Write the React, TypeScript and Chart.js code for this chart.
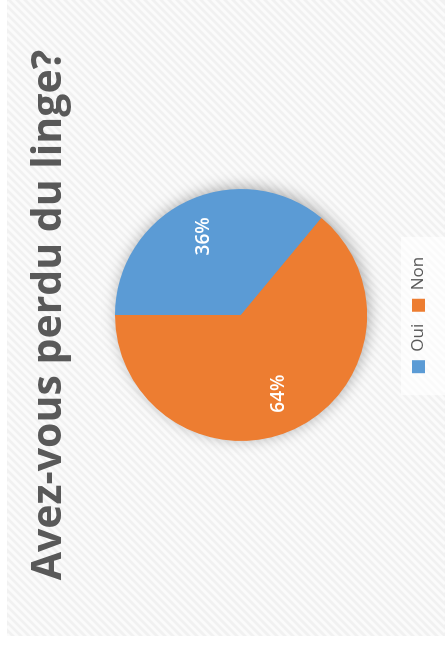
import React, { useEffect, useRef } from "react";
import { Chart, registerables } from "chart.js";

Chart.register(...registerables);

const categories: string[] = ["Oui", "Non"];
const values: number[] = [36, 64];
const sliceColors: string[] = ["#5B9BD5", "#ED7D31"];
const titleText = "Avez-vous perdu du linge?";

const W = 636;
const H = 438;
const FONT = "'Open Sans', 'DejaVu Sans', sans-serif";

export default function App() {
  const ref = useRef<HTMLCanvasElement>(null);

  useEffect(() => {
    if (!ref.current) return;

    const bgPlugin = {
      id: "bgHatch",
      beforeDraw(chart: any) {
        const ctx = chart.ctx;
        const w = chart.width;
        const h = chart.height;
        ctx.save();
        ctx.fillStyle = "#f1f1f1";
        ctx.fillRect(0, 0, w, h);
        ctx.strokeStyle = "#fbfbfb";
        ctx.lineWidth = 3;
        ctx.beginPath();
        for (let c = -h; c < w + h; c += 8) {
          ctx.moveTo(c, 0);
          ctx.lineTo(c - h, h);
        }
        ctx.stroke();
        const lg = chart.legend;
        if (lg && lg.legendHitBoxes && lg.legendHitBoxes.length) {
          const hb = lg.legendHitBoxes;
          const x0 = Math.min(...hb.map((b: any) => b.left)) - 22;
          const x1 = Math.max(...hb.map((b: any) => b.left + b.width)) + 20;
          ctx.fillStyle = "rgba(255,255,255,0.65)";
          ctx.fillRect(x0, lg.top + 3, x1 - x0, H - lg.top);
        }
        ctx.restore();
      },
      beforeDatasetsDraw(chart: any) {
        const meta = chart.getDatasetMeta(0);
        const arc = meta.data[0];
        if (!arc) return;
        const ctx = chart.ctx;
        ctx.save();
        ctx.shadowColor = "rgba(0,0,0,0.35)";
        ctx.shadowBlur = 16;
        ctx.shadowOffsetX = 2;
        ctx.shadowOffsetY = 2;
        ctx.beginPath();
        ctx.arc(arc.x, arc.y, arc.outerRadius - 1, 0, Math.PI * 2);
        ctx.fillStyle = sliceColors[1];
        ctx.fill();
        ctx.restore();
      },
      afterDatasetsDraw(chart: any) {
        const meta = chart.getDatasetMeta(0);
        const ctx = chart.ctx;
        const total = values.reduce((a, b) => a + b, 0);
        ctx.save();
        ctx.fillStyle = "#ffffff";
        ctx.font = `600 19px ${FONT}`;
        ctx.textAlign = "center";
        ctx.textBaseline = "middle";
        meta.data.forEach((arc: any, i: number) => {
          const mid = (arc.startAngle + arc.endAngle) / 2;
          const r = arc.outerRadius * 0.69;
          const x = arc.x + Math.cos(mid) * r;
          const y = arc.y + Math.sin(mid) * r;
          ctx.fillText(Math.round((values[i] / total) * 100) + "%", x, y);
        });
        ctx.restore();
      },
    };

    const chart = new Chart(ref.current, {
      type: "pie",
      data: {
        labels: categories,
        datasets: [
          {
            data: values,
            backgroundColor: sliceColors,
            borderWidth: 0,
          },
        ],
      },
      options: {
        responsive: false,
        animation: false,
        radius: 126,
        layout: { padding: { left: 6, right: 0, top: 0, bottom: 8 } },
        plugins: {
          title: {
            display: true,
            text: titleText,
            color: "#595959",
            font: { family: FONT, size: 41, weight: "700", lineHeight: 1.2 },
            padding: { top: 18, bottom: 10 },
          },
          legend: {
            display: true,
            position: "bottom",
            labels: {
              boxWidth: 13,
              boxHeight: 13,
              padding: 12,
              color: "#595959",
              font: { family: FONT, size: 17 },
            },
          },
          tooltip: { enabled: false },
        },
      } as any,
      plugins: [bgPlugin],
    });

    return () => chart.destroy();
  }, []);

  return (
    <div
      style={{
        position: "absolute",
        left: 7,
        top: 0,
        width: H,
        height: W,
        overflow: "hidden",
      }}
    >
      <div
        style={{
          position: "absolute",
          left: 0,
          top: 0,
          width: W,
          height: H,
          transformOrigin: "0 0",
          transform: `translateY(${W}px) rotate(-90deg)`,
        }}
      >
        <canvas
          ref={ref}
          width={W}
          height={H}
          style={{ width: W, height: H, display: "block" }}
        />
      </div>
    </div>
  );
}
